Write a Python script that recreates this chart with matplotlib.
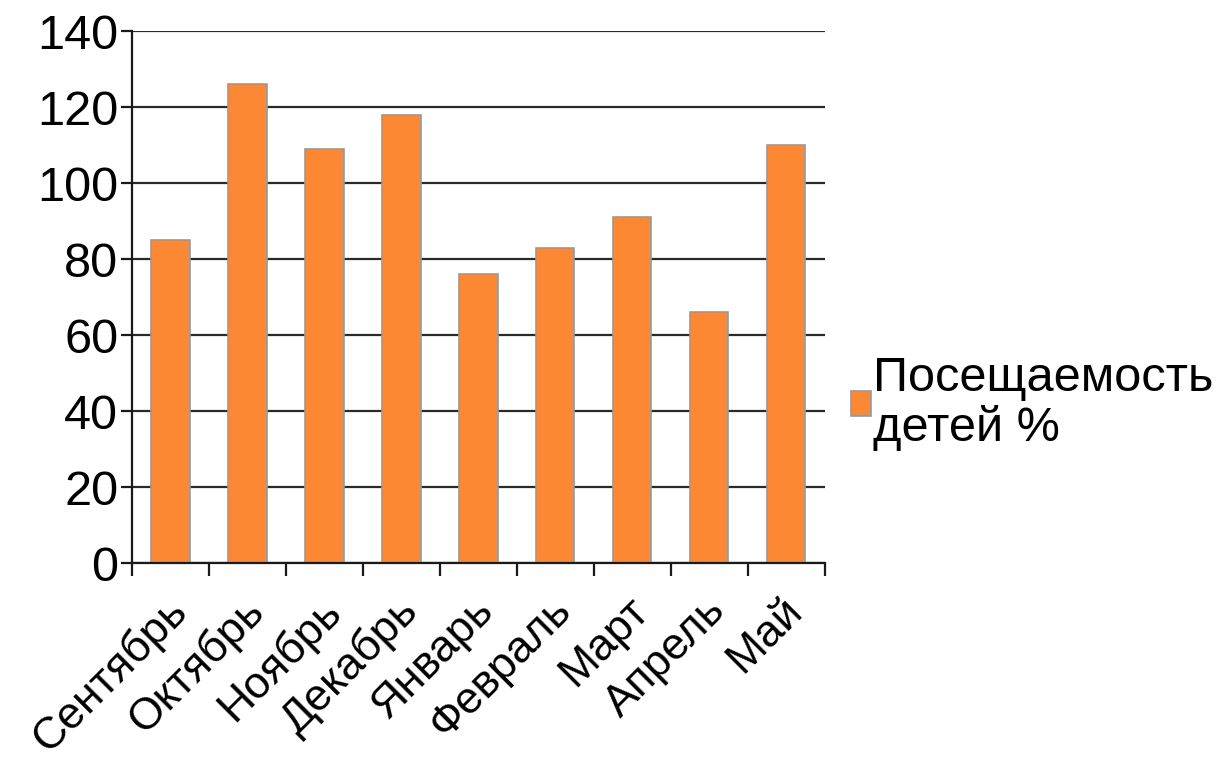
import numpy as np
import matplotlib.pyplot as plt
from matplotlib.ticker import FixedLocator
from matplotlib.transforms import ScaledTranslation

plt.rcParams['font.family'] = ['Liberation Sans', 'DejaVu Sans']

months = ['Сентябрь', 'Октябрь', 'Ноябрь', 'Декабрь', 'Январь',
          'Февраль', 'Март', 'Апрель', 'Май']
attendance = [85, 126, 109, 118, 76, 83, 91, 66, 110]
series_name = 'Посещаемость\nдетей %'

fig = plt.figure(figsize=(12.16, 7.6), dpi=100)
ax = fig.add_axes([0.1086, 0.259, 0.5695, 0.7])

x = np.arange(len(months))
ax.bar(x, attendance, width=0.5, color='#fd8833', edgecolor='#9a9a9a',
       linewidth=1.2, label=series_name, zorder=3)

ax.set_xlim(-0.5, len(months) - 0.5)
ax.set_ylim(0, 140)
ax.set_yticks(range(0, 141, 20))
ax.yaxis.grid(True, color='#2a2a2a', linewidth=1.6, zorder=0)

# ticks between categories, labels at centres
ax.set_xticks(x)
ax.set_xticklabels(months, rotation=45, ha='right', va='top',
                   rotation_mode='anchor')
ax.xaxis.set_minor_locator(FixedLocator(np.arange(-0.5, len(months), 1.0)))
ax.tick_params(axis='x', which='major', length=0, pad=19, labelsize=32)
ax.tick_params(axis='x', which='minor', length=9, width=1.6,
               direction='out', color='#1a1a1a')
ax.tick_params(axis='y', length=8, width=1.6, direction='out',
               color='#1a1a1a', labelsize=35, pad=2)

# nudge month labels a little to the left
shift = ScaledTranslation(-5 / 100, 0, fig.dpi_scale_trans)
for lbl in ax.get_xticklabels():
    lbl.set_transform(lbl.get_transform() + shift)

for side in ['top', 'right']:
    ax.spines[side].set_visible(False)
for side in ['left', 'bottom']:
    ax.spines[side].set_linewidth(1.6)
    ax.spines[side].set_color('#1a1a1a')
    ax.spines[side].set_zorder(4)

leg = ax.legend(loc='center left', bbox_to_anchor=(1.0, 0.3), frameon=False,
                fontsize=35, handlelength=0.4, handleheight=0.4,
                handletextpad=0.05, borderaxespad=0.15)
for t in leg.get_texts():
    t.set_linespacing(1.12)

fig.savefig('out.png', dpi=100)
